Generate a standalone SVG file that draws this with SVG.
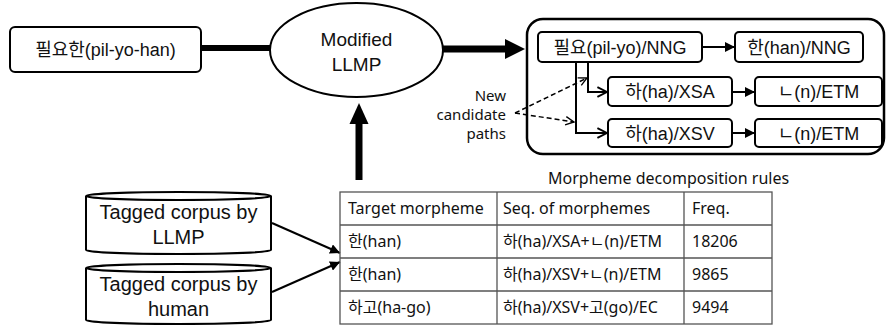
<svg xmlns="http://www.w3.org/2000/svg" width="886" height="326" viewBox="0 0 886 326">
  <style>
    .box { fill: #fff; stroke: #000; stroke-width: 2; }
    .lbl { font-family: "Liberation Sans", "Noto Sans CJK KR", sans-serif; fill: #111; text-anchor: middle; }
    .tbl { font-family: "Noto Sans", "Noto Sans CJK KR", sans-serif; font-size: 16px; fill: #111; }
    .note { font-family: "Noto Sans", "Noto Sans CJK KR", sans-serif; font-size: 15px; fill: #111; text-anchor: end; }
    .grid { stroke: #555; stroke-width: 1.3; fill: none; }
    .thin { stroke: #000; stroke-width: 2; fill: none; }
    .dash { stroke: #000; stroke-width: 1.5; fill: none; stroke-dasharray: 5 3; }
  </style>
  <defs>
    <marker id="solid" viewBox="0 0 10 10" refX="10" refY="5" markerWidth="5" markerHeight="5" orient="auto" markerUnits="strokeWidth">
      <path d="M0,0 L10,5 L0,10 Z" fill="#000"/>
    </marker>
    <marker id="open" viewBox="0 0 10 10" refX="9" refY="5" markerWidth="6" markerHeight="6" orient="auto" markerUnits="strokeWidth">
      <path d="M1,1 L9,5 L1,9" fill="none" stroke="#000" stroke-width="1.6"/>
    </marker>
    <marker id="openDash" viewBox="0 0 10 10" refX="9" refY="5" markerWidth="7" markerHeight="7" orient="auto" markerUnits="strokeWidth">
      <path d="M1,1 L9,5 L1,9" fill="none" stroke="#000" stroke-width="1.3"/>
    </marker>
  </defs>

  <!-- connectors -->
  <g id="connectors">
    <!-- input word to parser -->
    <line x1="201" y1="48" x2="271" y2="48" stroke="#000" stroke-width="6"/>
    <!-- parser to candidate lattice -->
    <line x1="443" y1="49" x2="506" y2="49" stroke="#000" stroke-width="7"/>
    <path d="M505,39 L525,49 L505,59 Z" fill="#000"/>
    <!-- rules up into parser -->
    <line x1="359" y1="180" x2="359" y2="122" stroke="#000" stroke-width="7"/>
    <path d="M349.5,124 L359,103 L368.5,124 Z" fill="#000"/>
    <!-- corpora to rule table -->
    <line x1="272" y1="223" x2="340" y2="253" class="thin" stroke-width="2.5" marker-end="url(#solid)"/>
    <line x1="272" y1="292" x2="340" y2="262" class="thin" stroke-width="2.5" marker-end="url(#solid)"/>
    <!-- lattice edges -->
    <line x1="702" y1="47" x2="735" y2="47" class="thin" marker-end="url(#solid)"/>
    <line x1="732" y1="92" x2="755" y2="92" class="thin" marker-end="url(#solid)"/>
    <line x1="732" y1="133" x2="755" y2="133" class="thin" marker-end="url(#solid)"/>
    <path d="M588,62 L588,92 L607,92" class="thin" marker-end="url(#open)"/>
    <path d="M576,62 L576,133 L607,133" class="thin" marker-end="url(#open)"/>
    <!-- new candidate path pointers -->
    <line x1="515" y1="113" x2="587" y2="78" class="dash" marker-end="url(#openDash)"/>
    <line x1="515" y1="113" x2="574" y2="122" class="dash" marker-end="url(#openDash)"/>
  </g>

  <g id="input-word">
    <rect class="box" x="10" y="27" width="191" height="45" rx="5"/>
    <text class="lbl" x="105.5" y="56" font-size="18">필요한(pil-yo-han)</text>
  </g>

  <g id="modified-llmp">
    <ellipse class="box" cx="356.5" cy="50" rx="86.5" ry="47"/>
    <text class="lbl" x="356.5" y="46" font-size="19">Modified</text>
    <text class="lbl" x="356.5" y="71" font-size="19">LLMP</text>
  </g>

  <g id="candidate-lattice">
    <rect x="527" y="19" width="357" height="135" rx="16" fill="none" stroke="#000" stroke-width="2.5"/>
  </g>

  <g id="node-pilyo-nng">
    <rect class="box" x="538" y="32" width="164" height="30" rx="4"/>
    <text class="lbl" x="620" y="53.5" font-size="18">필요(pil-yo)/NNG</text>
  </g>
  <g id="node-han-nng">
    <rect class="box" x="735" y="32" width="128" height="30" rx="4"/>
    <text class="lbl" x="799" y="53.5" font-size="18">한(han)/NNG</text>
  </g>
  <g id="node-ha-xsa">
    <rect class="box" x="608" y="77" width="124" height="29" rx="4"/>
    <text class="lbl" x="670" y="98" font-size="18">하(ha)/XSA</text>
  </g>
  <g id="node-n-etm-1">
    <rect class="box" x="755" y="77" width="127" height="29" rx="4"/>
    <text class="lbl" x="818.5" y="98" font-size="18">ㄴ(n)/ETM</text>
  </g>
  <g id="node-ha-xsv">
    <rect class="box" x="608" y="119" width="124" height="28" rx="4"/>
    <text class="lbl" x="670" y="139.5" font-size="18">하(ha)/XSV</text>
  </g>
  <g id="node-n-etm-2">
    <rect class="box" x="755" y="119" width="127" height="28" rx="4"/>
    <text class="lbl" x="818.5" y="139.5" font-size="18">ㄴ(n)/ETM</text>
  </g>

  <g id="new-candidate-label">
    <text class="note" x="506" y="101">New</text>
    <text class="note" x="506" y="120">candidate</text>
    <text class="note" x="506" y="139">paths</text>
  </g>

  <g id="corpus-llmp">
    <path class="box" d="M86,196 L86,250 A92.5,4 0 0 0 271,250 L271,196 A92.5,4 0 0 0 86,196 Z"/>
    <path d="M86,196 A92.5,4 0 0 0 271,196" fill="none" stroke="#000" stroke-width="2"/>
    <text class="lbl" x="178.5" y="219" font-size="20">Tagged corpus by</text>
    <text class="lbl" x="178.5" y="244" font-size="20">LLMP</text>
  </g>
  <g id="corpus-human">
    <path class="box" d="M86,268 L86,320 A92.5,4 0 0 0 271,320 L271,268 A92.5,4 0 0 0 86,268 Z"/>
    <path d="M86,268 A92.5,4 0 0 0 271,268" fill="none" stroke="#000" stroke-width="2"/>
    <text class="lbl" x="178.5" y="291" font-size="20">Tagged corpus by</text>
    <text class="lbl" x="178.5" y="316" font-size="20">human</text>
  </g>

  <g id="decomposition-rules">
    <text class="tbl" x="548" y="184">Morpheme decomposition rules</text>
    <rect class="grid" x="340" y="192" width="432" height="132" fill="#fff"/>
    <path class="grid" d="M340,225 H772 M340,258 H772 M340,291 H772 M497,192 V324 M684,192 V324"/>
    <text class="tbl" x="348" y="214">Target morpheme</text>
    <text class="tbl" x="503" y="214">Seq. of morphemes</text>
    <text class="tbl" x="692" y="214">Freq.</text>
    <text class="tbl" x="348" y="247">한(han)</text>
    <text class="tbl" x="503" y="247">하(ha)/XSA+ㄴ(n)/ETM</text>
    <text class="tbl" x="692" y="247">18206</text>
    <text class="tbl" x="348" y="280">한(han)</text>
    <text class="tbl" x="503" y="280">하(ha)/XSV+ㄴ(n)/ETM</text>
    <text class="tbl" x="692" y="280">9865</text>
    <text class="tbl" x="348" y="313">하고(ha-go)</text>
    <text class="tbl" x="503" y="313">하(ha)/XSV+고(go)/EC</text>
    <text class="tbl" x="692" y="313">9494</text>
  </g>
</svg>
